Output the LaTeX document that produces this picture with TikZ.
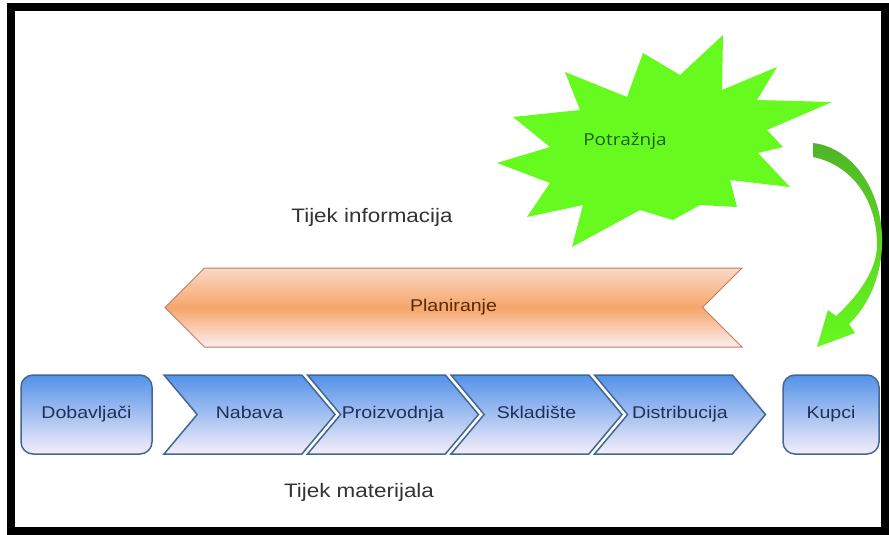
\documentclass[tikz,border=0pt]{standalone}
\usepackage{fontspec}
\setmainfont{Liberation Sans}[FakeStretch=1.15]
\newfontfamily\burstfont{Open Sans}[FakeStretch=1.15]
\usetikzlibrary{shapes.symbols}

\definecolor{boxTop}{RGB}{84,146,232}
\definecolor{boxBottom}{RGB}{244,238,250}
\definecolor{boxLine}{RGB}{66,104,150}
\definecolor{boxText}{RGB}{30,50,85}
\definecolor{planTop}{RGB}{251,216,198}
\definecolor{planMid}{RGB}{245,166,106}
\definecolor{planBottom}{RGB}{253,238,240}
\definecolor{planLine}{RGB}{190,125,100}
\definecolor{planText}{RGB}{90,40,10}
\definecolor{burstGreen}{RGB}{102,250,30}
\definecolor{burstText}{RGB}{30,95,30}
\definecolor{loopTop}{RGB}{80,180,40}
\definecolor{loopBottom}{RGB}{102,250,30}

\tikzset{
	endBox/.style={rectangle, rounded corners=12pt, draw=boxLine, line width=1.5pt, top color=boxTop, bottom color=boxBottom, minimum height=79pt, text=boxText, text height=12pt, text depth=3.5pt, font=\fontsize{17}{20}\selectfont},
	stageBox/.style={signal, signal to=east, signal from=west, signal pointer angle=100, draw=boxLine, line width=1.5pt, top color=boxTop, bottom color=boxBottom, minimum width=171pt, minimum height=79pt, inner sep=0pt, text=boxText, text height=12pt, text depth=3.5pt, font=\fontsize{17}{20}\selectfont},
	flowLabel/.style={text=black!80, font=\fontsize{19.5}{22}\selectfont}
}

\begin{document}
\begin{tikzpicture}[x=1pt, y=-1pt]
	\useasboundingbox (0,0) rectangle (889,535);
	\fill[white] (0,0) rectangle (889,535);
	\draw[line width=8pt] (11,7) rectangle (885,531);

	% demand burst
	\fill[burstGreen] (723,35) -- (722,90) -- (777,67) -- (757,100) -- (832,102) -- (767,130) -- (783,147) -- (758,153) -- (790,187) -- (730,180) -- (737,207) -- (700,205) -- (673,220) -- (640,210) -- (572,247) -- (583,205) -- (527,217) -- (550,183) -- (497,163) -- (550,147) -- (513,117) -- (580,110) -- (565,72) -- (627,97) -- (643,53) -- (680,75) -- cycle;
	\node[text=burstText, font=\burstfont\fontsize{16.5}{19}\selectfont](demand) at (625,141){Potražnja};

	\node[flowLabel](infoFlow) at (372,217){Tijek informacija};

	% planning arrow
	\node[signal, signal to=west, signal from=east, signal pointer angle=90, draw=planLine, line width=1pt, top color=planTop, bottom color=planBottom, middle color=planMid, minimum width=577pt, minimum height=79pt, inner sep=0pt, text=planText, text height=12pt, text depth=3.5pt, font=\fontsize{17}{20}\selectfont](plan) at (453.5,307.5){Planiranje};

	% material chain
	\node[endBox, minimum width=131pt](supplier) at (86.5,414.5){Dobavljači};
	\node[stageBox](buying) at (249.5,414.5){Nabava};
	\node[stageBox](making) at (393,414.5){Proizvodnja};
	\node[stageBox](storing) at (536.5,414.5){Skladište};
	\node[stageBox](shipping) at (680,414.5){Distribucija};
	\node[endBox, minimum width=96pt](customer) at (831,414.5){Kupci};

	\node[flowLabel](materialFlow) at (359,492){Tijek materijala};

	% demand loop arrow
	\coordinate (loopStart) at (813,143);
	\coordinate (loopEnd) at (817,347);
	\shade[top color=loopTop, bottom color=loopBottom] (loopStart) .. controls (855,148) and (884,195) .. (882,245) .. controls (881,280) and (866,308) .. (849,324) -- (855,333) -- (loopEnd) -- (828,310) -- (836,316) .. controls (858,296) and (877,270) .. (877,245) .. controls (877,200) and (852,165) .. (813,157) -- cycle;

\end{tikzpicture}
\end{document}
